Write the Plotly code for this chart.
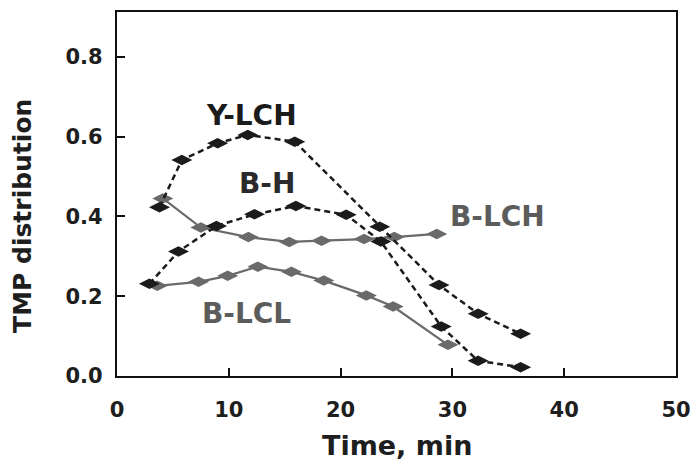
import plotly.graph_objects as go

# Data
ylch_x = [3.8, 5.8, 9.0, 11.7, 15.9, 23.5, 28.8, 32.3, 36.1]
ylch_y = [0.423, 0.541, 0.583, 0.604, 0.587, 0.374, 0.228, 0.156, 0.106]

bh_x = [2.9, 5.5, 8.9, 12.3, 16.0, 20.5, 23.6, 29.0, 32.3, 36.1]
bh_y = [0.231, 0.312, 0.376, 0.405, 0.426, 0.404, 0.337, 0.124, 0.038, 0.022]

blch_x = [4.1, 7.5, 11.75, 15.4, 18.3, 22.1, 24.8, 28.6]
blch_y = [0.445, 0.372, 0.348, 0.336, 0.339, 0.343, 0.348, 0.356]

blcl_x = [3.6, 7.3, 9.9, 12.6, 15.6, 18.5, 22.3, 24.7, 29.6]
blcl_y = [0.226, 0.236, 0.251, 0.274, 0.261, 0.239, 0.202, 0.174, 0.078]

labels = ["Y-LCH", "B-H", "B-LCH", "B-LCL"]
label_x = [12.0, 13.4, 34.0, 11.6]
label_y = [0.653, 0.483, 0.400, 0.157]

x_ticks = [0, 10, 20, 30, 40, 50]
y_ticks = [0.0, 0.2, 0.4, 0.6, 0.8]

DARK = "#1b1b1b"
GRAY = "#6a6a6a"
FONT = "DejaVu Sans, sans-serif"

fig = go.Figure()

def add_series(x, y, color, dash):
    fig.add_trace(go.Scatter(
        x=x, y=y, mode="lines+markers",
        line=dict(color=color, width=2.5 if dash else 2.2, dash="6px,4px" if dash else "solid"),
        marker=dict(symbol="diamond-wide", size=15, color=color, line=dict(width=0)),
        showlegend=False,
    ))

add_series(blcl_x, blcl_y, GRAY, False)
add_series(blch_x, blch_y, GRAY, False)
add_series(bh_x, bh_y, DARK, True)
add_series(ylch_x, ylch_y, DARK, True)

label_colors = [DARK, "#2a2a2a", "#5c5c5c", "#5c5c5c"]
for t, lx, ly, c in zip(labels, label_x, label_y, label_colors):
    fig.add_annotation(x=lx, y=ly, text="<b>%s</b>" % t, showarrow=False,
                       font=dict(family=FONT, size=28, color=c))

# axis titles
fig.add_annotation(xref="paper", yref="paper", x=0.5, y=-0.19, yanchor="middle",
                   text="<b>Time, min</b>", showarrow=False,
                   font=dict(family=FONT, size=27, color="#1e1e1e"))
fig.add_annotation(xref="paper", yref="paper", x=-0.168, y=0.44, xanchor="center", yanchor="middle",
                   text="<b>TMP distribution</b>", showarrow=False, textangle=-90,
                   font=dict(family=FONT, size=25, color="#1e1e1e"))

axis_common = dict(
    showline=True, linecolor="#111111", linewidth=2.2, mirror=True,
    ticks="inside", ticklen=8, tickwidth=1.5, tickcolor="#111111",
    showgrid=False, zeroline=False,
    tickfont=dict(family=FONT, size=21, color="#1e1e1e"),
    ticklabeloverflow="allow", automargin=False,
)

fig.update_xaxes(range=[0, 50], tickvals=x_ticks,
                 ticktext=["<b>%d</b>" % v for v in x_ticks],
                 ticklabelstandoff=14, **axis_common)
fig.update_yaxes(range=[0, 0.912], tickvals=y_ticks,
                 ticktext=["<b>%.1f</b>" % v for v in y_ticks],
                 ticklabelstandoff=8, **axis_common)

fig.update_layout(
    width=690, height=463,
    margin=dict(l=117, r=14, t=12, b=87, autoexpand=False),
    paper_bgcolor="white", plot_bgcolor="white",
)

fig.write_html("out.html")
